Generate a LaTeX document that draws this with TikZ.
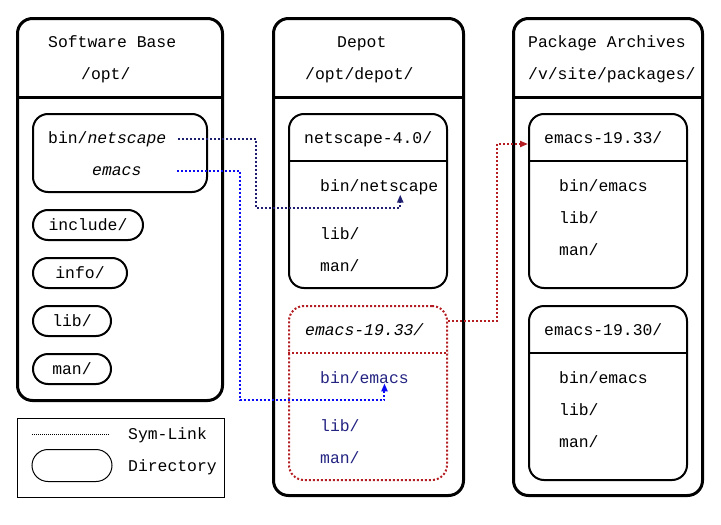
\documentclass[tikz,border=0pt]{standalone}
\usepackage{fontspec}
\setmonofont{Liberation Mono}
\usetikzlibrary{arrows.meta}

\definecolor{linknavy}{RGB}{30,30,110}
\definecolor{linkblue}{RGB}{10,10,245}
\definecolor{linkred}{RGB}{180,30,35}
\definecolor{textnavy}{RGB}{35,35,130}

\newcommand{\dirfont}{\ttfamily\fontsize{16.4}{18}\selectfont}

\tikzset{
    panel/.style={draw, line width=3pt, rounded corners=15pt},
    dirbox/.style={draw, line width=2pt, rounded corners=15pt},
    pill/.style={draw, line width=2pt, rounded corners=15pt, minimum height=30pt, inner sep=0pt, font=\dirfont},
    txt/.style={inner sep=0pt, anchor=base west, font=\dirfont},
    symlink/.style={line width=2pt, dash pattern=on 2pt off 2pt, -{Triangle[length=8pt,width=6pt]}},
}

\begin{document}
\begin{tikzpicture}[x=1pt, y=-1pt]
            \useasboundingbox (0,0) rectangle (721,525);

            % the three trees
            \node[panel, minimum width=205pt, minimum height=382pt] (base) at (120,209.5) {};
            \node[panel, minimum width=190pt, minimum height=477pt] (depot) at (368.5,257) {};
            \node[panel, minimum width=189pt, minimum height=477pt] (arch) at (608,257) {};
            \foreach \p in {base, depot, arch} {
                \draw[line width=3pt] (\p.west |- 0,97) -- (\p.east |- 0,97);
            }

            \node[txt] (basetitle) at (48,47) {Software Base};
            \node[txt] (basepath) at (81,79) {/opt/};
            \node[txt] (depottitle) at (337,47) {Depot};
            \node[txt] (depotpath) at (305,79) {/opt/depot/};
            \node[txt] (archtitle) at (528,47) {Package Archives};
            \node[txt] (archpath) at (528,79) {/v/site/packages/};

            % software base
            \node[dirbox, minimum width=174pt, minimum height=78pt] (bin) at (120,153) {};
            \node[txt] (lnet) at (48,143) {bin/\textit{netscape}};
            \node[txt] (lemacs) at (92,175) {\textit{emacs}};
            \foreach \n\w\y in {include/112/225, info/96/273, lib/80/321, man/80/369} {
                \node[pill, minimum width=\w-2] (\n) at (32+\w/2,\y) {\n/};
            }

            % depot
            \node[dirbox, minimum width=158pt, minimum height=174pt] (dns) at (368,201) {};
            \draw[line width=2pt] (dns.west |- 0,161) -- (dns.east |- 0,161);
            \node[txt] (dnstitle) at (304,143) {netscape-4.0/};
            \node[txt] (dnsbin) at (320,191) {bin/netscape};
            \node[txt] (dnslib) at (320,239) {lib/};
            \node[txt] (dnsman) at (320,271) {man/};

            \node[dirbox, draw=linkred, dash pattern=on 2pt off 2pt, minimum width=158pt, minimum height=174pt] (dem) at (368,393) {};
            \draw[line width=2pt, linkred, dash pattern=on 2pt off 2pt] (dem.west |- 0,353) -- (dem.east |- 0,353);
            \node[txt] (demtitle) at (305,335) {\textit{emacs-19.33/}};
            \node[txt, textnavy] (dembin) at (320,383) {bin/emacs};
            \node[txt, textnavy] (demlib) at (320,431) {lib/};
            \node[txt, textnavy] (demman) at (320,463) {man/};

            % package archives
            \node[dirbox, minimum width=158pt, minimum height=174pt] (pem) at (608,201) {};
            \draw[line width=2pt] (pem.west |- 0,161) -- (pem.east |- 0,161);
            \node[txt] (pemtitle) at (544,143) {emacs-19.33/};
            \node[txt] (pembin) at (559,191) {bin/emacs};
            \node[txt] (pemlib) at (559,223) {lib/};
            \node[txt] (pemman) at (559,255) {man/};

            \node[dirbox, minimum width=158pt, minimum height=174pt] (pold) at (608,393) {};
            \draw[line width=2pt] (pold.west |- 0,353) -- (pold.east |- 0,353);
            \node[txt] (poldtitle) at (544,335) {emacs-19.30/};
            \node[txt] (poldbin) at (559,383) {bin/emacs};
            \node[txt] (poldlib) at (559,415) {lib/};
            \node[txt] (poldman) at (559,447) {man/};

            % sym-links
            \coordinate (nsbend) at (256,208);
            \coordinate (embend) at (240,400);
            \draw[symlink, linknavy] ([xshift=-30pt]bin.east |- lnet) -| (nsbend) -| ([xshift=21pt]dnsbin.south);
            \draw[symlink, linkblue] ([xshift=-31pt]bin.east |- lemacs) -| (embend) -| ([xshift=20pt]dembin.south);
            \draw[symlink, linkred] ([yshift=-16pt]dem.north east) -- ++(49,0) |- ([yshift=-31pt]pem.north west);

            % legend
            \node[draw, line width=1pt, minimum width=207pt, minimum height=79pt] (legend) at (120.5,457.5) {};
            \draw[line width=1pt, dash pattern=on 1pt off 1pt] (32,434) -- (110,434);
            \node[txt] (legsym) at (128,439) {Sym-Link};
            \node[draw, line width=1pt, rounded corners=16pt, minimum width=80pt, minimum height=32pt] (legdir) at (72,465.5) {};
            \node[txt] (legdirtxt) at (128,471) {Directory};
        \end{tikzpicture}
\end{document}
